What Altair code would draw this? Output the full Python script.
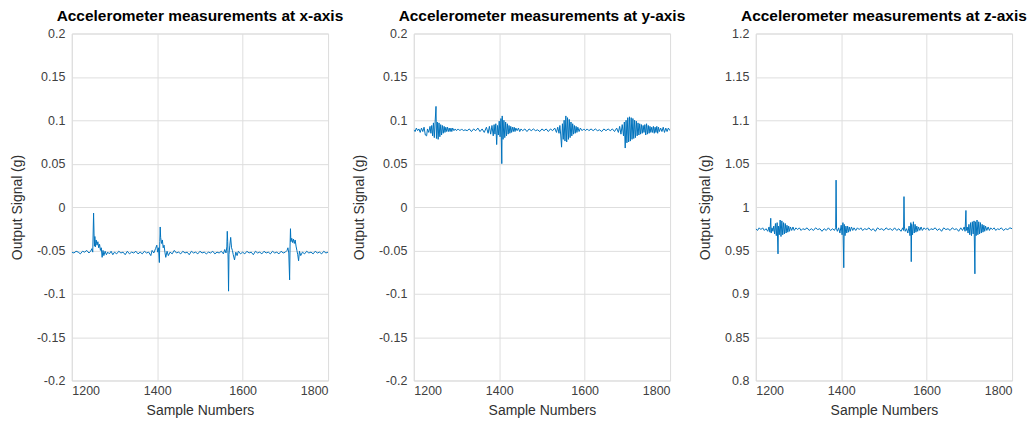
import altair as alt
import pandas as pd

# ---------------- data, (sample, value) pairs ----------------
signal_x = [
    (1200, -0.052), (1205, -0.053), (1210, -0.051), (1215, -0.052), (1220, -0.054), (1225, -0.051),
    (1230, -0.052), (1235, -0.050), (1240, -0.053), (1244, -0.051), (1247, -0.048), (1249, -0.052),
    (1251, -0.007), (1252, -0.030), (1253, -0.045), (1254, -0.034), (1255, -0.046), (1257, -0.038),
    (1259, -0.044), (1261, -0.040), (1263, -0.047), (1265, -0.043), (1267, -0.050), (1269, -0.047),
    (1271, -0.058), (1273, -0.050), (1275, -0.056), (1278, -0.051), (1281, -0.055), (1284, -0.052),
    (1288, -0.054), (1292, -0.051), (1296, -0.055), (1300, -0.052), (1305, -0.054), (1310, -0.051),
    (1315, -0.053), (1320, -0.052), (1325, -0.055), (1330, -0.051), (1335, -0.054), (1340, -0.052),
    (1345, -0.053), (1350, -0.051), (1355, -0.054), (1360, -0.052), (1365, -0.054), (1370, -0.051),
    (1375, -0.053), (1380, -0.052), (1385, -0.056), (1388, -0.050), (1392, -0.053), (1396, -0.048),
    (1399, -0.044), (1401, -0.052), (1403, -0.047), (1405, -0.064), (1406, -0.040), (1407, -0.023),
    (1408, -0.035), (1410, -0.042), (1412, -0.038), (1414, -0.047), (1416, -0.044), (1418, -0.052),
    (1420, -0.058), (1423, -0.051), (1426, -0.056), (1430, -0.052), (1435, -0.054), (1440, -0.050),
    (1445, -0.053), (1450, -0.052), (1455, -0.054), (1460, -0.051), (1465, -0.053), (1470, -0.052),
    (1475, -0.055), (1480, -0.051), (1485, -0.053), (1490, -0.052), (1495, -0.054), (1500, -0.051),
    (1505, -0.053), (1510, -0.052), (1515, -0.054), (1520, -0.052), (1525, -0.053), (1530, -0.051),
    (1535, -0.054), (1540, -0.052), (1545, -0.053), (1550, -0.051), (1555, -0.054), (1558, -0.049),
    (1561, -0.053), (1563, -0.046), (1564, -0.028), (1565, -0.040), (1566, -0.060), (1567, -0.097),
    (1568, -0.055), (1570, -0.044), (1572, -0.035), (1574, -0.047), (1576, -0.050), (1578, -0.055),
    (1581, -0.061), (1584, -0.052), (1587, -0.056), (1590, -0.051), (1595, -0.054), (1600, -0.052),
    (1605, -0.054), (1610, -0.051), (1615, -0.053), (1620, -0.052), (1625, -0.055), (1630, -0.051),
    (1635, -0.053), (1640, -0.052), (1645, -0.054), (1650, -0.051), (1655, -0.053), (1660, -0.052),
    (1665, -0.054), (1670, -0.051), (1675, -0.053), (1680, -0.052), (1685, -0.054), (1690, -0.051),
    (1695, -0.053), (1700, -0.052), (1704, -0.050), (1706, -0.047), (1708, -0.053), (1710, -0.084),
    (1711, -0.045), (1712, -0.025), (1713, -0.040), (1715, -0.036), (1717, -0.041), (1719, -0.037),
    (1721, -0.042), (1723, -0.038), (1725, -0.045), (1727, -0.050), (1729, -0.055), (1731, -0.062),
    (1733, -0.051), (1736, -0.056), (1740, -0.052), (1745, -0.054), (1750, -0.051), (1755, -0.053),
    (1760, -0.052), (1765, -0.054), (1770, -0.051), (1775, -0.053), (1780, -0.052), (1785, -0.054),
    (1790, -0.051), (1795, -0.053), (1800, -0.052),
]

signal_y = [
    (1200, 0.089), (1203, 0.087), (1206, 0.091), (1209, 0.088), (1212, 0.090), (1215, 0.086),
    (1218, 0.091), (1221, 0.087), (1224, 0.092), (1227, 0.083), (1230, 0.082), (1232, 0.090),
    (1235, 0.086), (1238, 0.093), (1240, 0.085), (1242, 0.094), (1244, 0.082), (1246, 0.097),
    (1248, 0.080), (1250, 0.099), (1252, 0.116), (1253, 0.079), (1255, 0.098), (1257, 0.078),
    (1259, 0.097), (1261, 0.081), (1263, 0.095), (1265, 0.083), (1267, 0.094), (1269, 0.085),
    (1271, 0.093), (1273, 0.086), (1275, 0.092), (1277, 0.087), (1279, 0.092), (1281, 0.087),
    (1283, 0.091), (1285, 0.087), (1287, 0.091), (1289, 0.087), (1291, 0.091), (1294, 0.088),
    (1297, 0.090), (1300, 0.088), (1304, 0.090), (1308, 0.088), (1312, 0.090), (1316, 0.088),
    (1320, 0.089), (1325, 0.088), (1330, 0.090), (1335, 0.087), (1340, 0.090), (1345, 0.088),
    (1350, 0.091), (1355, 0.087), (1360, 0.090), (1365, 0.086), (1370, 0.092), (1374, 0.085),
    (1377, 0.093), (1380, 0.084), (1383, 0.094), (1386, 0.082), (1388, 0.095), (1390, 0.084),
    (1392, 0.096), (1394, 0.072), (1396, 0.094), (1398, 0.083), (1400, 0.099), (1402, 0.081),
    (1404, 0.102), (1406, 0.050), (1407, 0.105), (1409, 0.078), (1411, 0.100), (1413, 0.080),
    (1415, 0.098), (1417, 0.082), (1419, 0.096), (1421, 0.084), (1423, 0.094), (1425, 0.085),
    (1427, 0.093), (1429, 0.086), (1431, 0.092), (1433, 0.087), (1435, 0.092), (1437, 0.087),
    (1439, 0.091), (1442, 0.088), (1445, 0.091), (1448, 0.087), (1451, 0.090), (1455, 0.088),
    (1460, 0.090), (1465, 0.087), (1470, 0.090), (1475, 0.088), (1480, 0.090), (1485, 0.088),
    (1490, 0.089), (1495, 0.087), (1500, 0.090), (1505, 0.088), (1510, 0.090), (1515, 0.087),
    (1520, 0.090), (1525, 0.088), (1530, 0.091), (1534, 0.086), (1537, 0.092), (1540, 0.085),
    (1542, 0.094), (1544, 0.083), (1546, 0.069), (1548, 0.096), (1550, 0.078), (1552, 0.100),
    (1554, 0.076), (1556, 0.105), (1558, 0.075), (1560, 0.103), (1562, 0.078), (1564, 0.101),
    (1566, 0.080), (1568, 0.098), (1570, 0.082), (1572, 0.096), (1574, 0.084), (1576, 0.094),
    (1578, 0.085), (1580, 0.093), (1582, 0.086), (1584, 0.092), (1587, 0.087), (1590, 0.091),
    (1594, 0.088), (1598, 0.090), (1602, 0.088), (1606, 0.090), (1610, 0.088), (1615, 0.090),
    (1620, 0.088), (1625, 0.090), (1630, 0.088), (1635, 0.089), (1640, 0.087), (1645, 0.090),
    (1650, 0.088), (1655, 0.090), (1660, 0.088), (1665, 0.090), (1670, 0.087), (1675, 0.091),
    (1679, 0.086), (1682, 0.093), (1685, 0.084), (1688, 0.095), (1691, 0.082), (1693, 0.098),
    (1695, 0.068), (1697, 0.100), (1699, 0.074), (1701, 0.103), (1703, 0.075), (1705, 0.104),
    (1707, 0.076), (1709, 0.103), (1711, 0.078), (1713, 0.102), (1715, 0.079), (1717, 0.100),
    (1719, 0.080), (1721, 0.099), (1723, 0.082), (1725, 0.097), (1727, 0.083), (1729, 0.096),
    (1731, 0.084), (1733, 0.095), (1735, 0.085), (1737, 0.094), (1739, 0.086), (1741, 0.095),
    (1743, 0.083), (1745, 0.096), (1747, 0.084), (1749, 0.094), (1751, 0.085), (1753, 0.093),
    (1755, 0.086), (1757, 0.092), (1759, 0.086), (1761, 0.093), (1763, 0.085), (1765, 0.092),
    (1767, 0.086), (1769, 0.093), (1771, 0.085), (1773, 0.092), (1775, 0.087), (1778, 0.091),
    (1781, 0.087), (1784, 0.092), (1787, 0.086), (1790, 0.091), (1793, 0.087), (1796, 0.091),
    (1800, 0.088),
]

signal_z = [
    (1200, 0.975), (1204, 0.973), (1208, 0.976), (1212, 0.974), (1216, 0.976), (1220, 0.973),
    (1224, 0.975), (1228, 0.972), (1231, 0.977), (1233, 0.971), (1235, 0.987), (1236, 0.970),
    (1238, 0.976), (1240, 0.972), (1242, 0.978), (1244, 0.969), (1246, 0.981), (1248, 0.967),
    (1250, 0.982), (1252, 0.946), (1253, 0.978), (1255, 0.968), (1257, 0.985), (1259, 0.966),
    (1261, 0.984), (1263, 0.968), (1265, 0.982), (1267, 0.969), (1269, 0.981), (1271, 0.970),
    (1273, 0.979), (1275, 0.971), (1277, 0.978), (1279, 0.972), (1281, 0.977), (1284, 0.973),
    (1287, 0.977), (1290, 0.973), (1294, 0.976), (1298, 0.974), (1302, 0.976), (1306, 0.973),
    (1310, 0.975), (1315, 0.974), (1320, 0.976), (1325, 0.973), (1330, 0.975), (1335, 0.973),
    (1340, 0.976), (1345, 0.974), (1350, 0.975), (1355, 0.972), (1360, 0.975), (1365, 0.973),
    (1370, 0.976), (1375, 0.973), (1380, 0.975), (1384, 0.973), (1387, 0.976), (1388, 1.031),
    (1389, 0.975), (1391, 0.972), (1394, 0.976), (1397, 0.970), (1400, 0.979), (1402, 0.968),
    (1404, 0.982), (1406, 0.930), (1407, 0.980), (1409, 0.967), (1411, 0.978), (1413, 0.970),
    (1415, 0.978), (1417, 0.971), (1419, 0.977), (1421, 0.972), (1424, 0.977), (1427, 0.973),
    (1430, 0.976), (1434, 0.973), (1438, 0.976), (1442, 0.974), (1446, 0.976), (1450, 0.973),
    (1455, 0.975), (1460, 0.974), (1465, 0.976), (1470, 0.973), (1475, 0.975), (1480, 0.972),
    (1485, 0.976), (1490, 0.974), (1495, 0.975), (1500, 0.973), (1505, 0.976), (1510, 0.974),
    (1515, 0.975), (1520, 0.973), (1525, 0.976), (1530, 0.973), (1535, 0.975), (1540, 0.972),
    (1544, 0.976), (1546, 0.973), (1547, 1.012), (1548, 0.977), (1550, 0.972), (1553, 0.975),
    (1556, 0.970), (1559, 0.978), (1561, 0.967), (1563, 0.982), (1564, 0.937), (1565, 0.980),
    (1567, 0.968), (1569, 0.983), (1571, 0.970), (1573, 0.980), (1575, 0.971), (1577, 0.978),
    (1579, 0.972), (1581, 0.977), (1584, 0.973), (1587, 0.977), (1590, 0.973), (1594, 0.976),
    (1598, 0.974), (1602, 0.976), (1606, 0.973), (1610, 0.975), (1615, 0.974), (1620, 0.976),
    (1625, 0.973), (1630, 0.975), (1635, 0.972), (1640, 0.976), (1645, 0.974), (1650, 0.975),
    (1655, 0.973), (1660, 0.976), (1665, 0.974), (1670, 0.975), (1675, 0.972), (1680, 0.976),
    (1684, 0.973), (1688, 0.977), (1690, 0.972), (1692, 0.996), (1693, 0.973), (1695, 0.977),
    (1697, 0.970), (1699, 0.980), (1701, 0.968), (1703, 0.982), (1705, 0.967), (1707, 0.983),
    (1709, 0.969), (1711, 0.984), (1713, 0.923), (1714, 0.983), (1716, 0.967), (1718, 0.985),
    (1720, 0.968), (1722, 0.983), (1724, 0.969), (1726, 0.982), (1728, 0.970), (1730, 0.980),
    (1732, 0.971), (1734, 0.979), (1736, 0.972), (1738, 0.978), (1741, 0.973), (1744, 0.977),
    (1747, 0.973), (1750, 0.976), (1754, 0.974), (1758, 0.976), (1762, 0.973), (1766, 0.975),
    (1770, 0.974), (1775, 0.976), (1780, 0.973), (1785, 0.975), (1790, 0.974), (1795, 0.976),
    (1800, 0.975),
]

titles = ["Accelerometer measurements at x-axis",
          "Accelerometer measurements at y-axis",
          "Accelerometer measurements at z-axis"]
x_ticks = [1200, 1400, 1600, 1800]
y_ticks_xy = [-0.2, -0.15, -0.1, -0.05, 0, 0.05, 0.1, 0.15, 0.2]
y_ticks_z = [0.8, 0.85, 0.9, 0.95, 1, 1.05, 1.1, 1.15, 1.2]

FONT = "Liberation Sans"
LINE = "#0072BD"

axis_style = dict(
    ticks=False, domain=False, grid=True, gridColor="#dedede", gridWidth=1,
    labelFont=FONT, labelFontSize=12.5, labelColor="#404040",
    titleFont=FONT, titleFontSize=14, titleFontWeight=400, titleColor="#303030",
)


def panel(pairs, title, yticks):
    df = pd.DataFrame(pairs, columns=["sample", "value"])
    return alt.Chart(df).mark_line(color=LINE, strokeWidth=1, clip=True).encode(
        x=alt.X("sample:Q", title="Sample Numbers",
                scale=alt.Scale(domain=[1200, 1800], nice=False, zero=False),
                axis=alt.Axis(values=x_ticks, format="d", labelPadding=4, titlePadding=7,
                              **axis_style)),
        y=alt.Y("value:Q", title="Output Signal (g)",
                scale=alt.Scale(domain=[yticks[0], yticks[-1]], nice=False, zero=False),
                axis=alt.Axis(values=yticks, labelExpr="'' + datum.value",
                              labelPadding=7, titlePadding=12, **axis_style)),
    ).properties(
        width=257, height=348,
        title=alt.TitleParams(title, fontSize=15.5, fontWeight="bold", font=FONT,
                              color="#000000", offset=3, anchor="middle"),
    )


chart = alt.hconcat(
    panel(signal_x, titles[0], y_ticks_xy),
    panel(signal_y, titles[1], y_ticks_xy),
    panel(signal_z, titles[2], y_ticks_z),
    spacing=86, bounds="flush",
).properties(
    padding={"left": 2, "top": 0, "right": 0, "bottom": 0},
).configure_view(
    stroke="#262626", strokeWidth=1,
).configure(background="white")

chart.save("out.html", embed_options={"renderer": "svg", "actions": False})
